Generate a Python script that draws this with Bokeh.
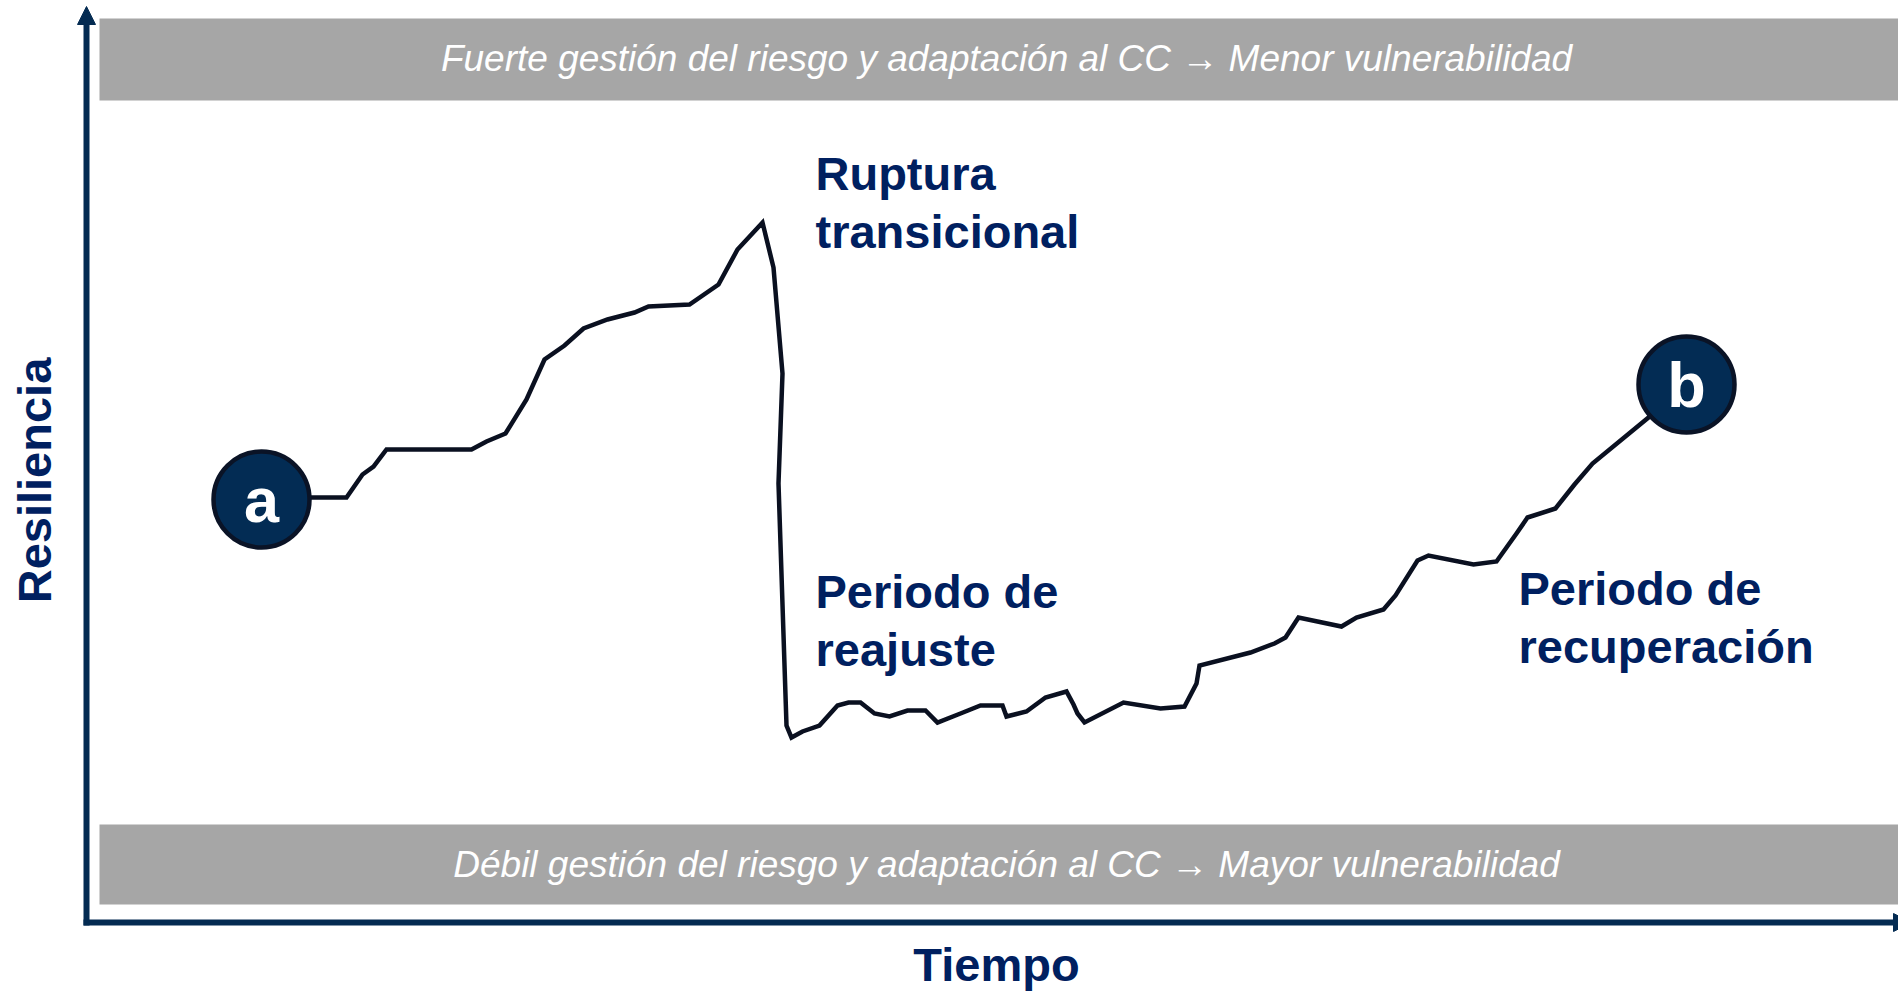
import math
from bokeh.plotting import figure
from bokeh.models import Range1d, Arrow, NormalHead
from bokeh.core.properties import value
from bokeh.embed import file_html
from bokeh.resources import INLINE

# ---- data ----
tiempo = [175, 260, 276, 287, 300, 385, 400, 419, 440, 458,
          478, 497, 521, 548, 562, 603, 632, 651, 676, 687,
          696, 692, 700, 705, 716, 733, 751, 762, 774, 788,
          803, 821, 839, 851, 874, 894, 916, 920, 940, 959,
          980, 987, 991, 998, 1037, 1074, 1098, 1110, 1113, 1164,
          1188, 1199, 1212, 1255, 1270, 1297, 1309, 1331, 1342, 1387,
          1410, 1430, 1441, 1469, 1488, 1506, 1562, 1600]
resiliencia = [425, 425, 448, 456, 473, 473, 481, 489, 523, 563,
               577, 594, 603, 610, 616, 618, 638, 673, 700, 655,
               549, 439, 197, 185, 191, 197, 217, 220, 220, 209,
               206, 212, 212, 200, 209, 217, 217, 206, 211, 225,
               231, 218, 209, 200, 220, 214, 216, 239, 257, 270,
               279, 285, 305, 296, 305, 313, 327, 362, 367, 358,
               361, 389, 405, 414, 438, 459, 505, 538]

hito_t = [175, 1600]
hito_r = [423, 538]
hito_txt = ["a", "b"]

titulo_x = "Tiempo"
titulo_y = "Resiliencia"
banda_sup = "Fuerte gestión del riesgo y adaptación al CC → Menor vulnerabilidad"
banda_inf = "Débil gestión del riesgo y adaptación al CC → Mayor vulnerabilidad"
fases = [["Ruptura", "transicional"],
         ["Periodo de", "reajuste"],
         ["Periodo de", "recuperación"]]

# ---- layout / style ----
FONT = value("Liberation Sans")
NAVY = "#002060"
AXIS = "#042B52"
W, H = 1898, 992

p = figure(width=W, height=H, x_range=Range1d(-86, 1812), y_range=Range1d(-70, 922),
           output_backend="svg", toolbar_location=None, min_border=0,
           x_axis_type=None, y_axis_type=None)
p.outline_line_color = None
p.background_fill_color = "white"
p.border_fill_color = "white"

# gray bands
p.quad(left=[13, 13], right=[1840, 1840], bottom=[822, 18], top=[904, 98],
       fill_color="#A6A6A6", line_color=None)
p.text(x=[920], y=[864], text=[banda_sup], text_font=FONT, text_font_style="italic",
       text_font_size="37px", text_color="white", text_align="center",
       text_baseline="alphabetic")
p.text(x=[920], y=[58], text=[banda_inf], text_font=FONT, text_font_style="italic",
       text_font_size="37px", text_color="white", text_align="center",
       text_baseline="alphabetic")

# axes with arrows
p.add_layout(Arrow(end=NormalHead(size=18, fill_color=AXIS, line_color=AXIS, line_width=1),
                   x_start=0, y_start=-3, x_end=0, y_end=916,
                   line_color=AXIS, line_width=6))
p.add_layout(Arrow(end=NormalHead(size=18, fill_color=AXIS, line_color=AXIS, line_width=1),
                   x_start=-3, y_start=0, x_end=1825, y_end=0,
                   line_color=AXIS, line_width=6))

# axis titles
p.text(x=[910], y=[-42], text=[titulo_x], text_font=FONT, text_font_style="bold",
       text_font_size="47px", text_color=NAVY, text_align="center",
       text_baseline="alphabetic")
p.text(x=[-52], y=[442], text=[titulo_y], angle=math.pi / 2, text_font=FONT,
       text_font_style="bold", text_font_size="47px", text_color=NAVY,
       text_align="center", text_baseline="alphabetic")

# resilience curve
p.line(tiempo, resiliencia, line_color="#0A1020", line_width=4.5, line_join="miter")

# milestones a / b
p.scatter(hito_t, hito_r, marker="circle", size=96, fill_color="#032C54",
          line_color="#0A1326", line_width=4.5)
p.text(x=hito_t, y=hito_r, text=hito_txt, y_offset=0, text_font=FONT,
       text_font_style="bold", text_font_size="63px", text_color="white",
       text_align="center", text_baseline="alphabetic")

# phase labels
fase_x = [729, 729, 1432]
fase_y = [749, 331, 334]
for fx, fy, lines in zip(fase_x, fase_y, fases):
    for i, ln in enumerate(lines):
        p.text(x=[fx], y=[fy - 58 * i], text=[ln], text_font=FONT, text_font_style="bold",
               text_font_size="47px", text_color=NAVY, text_align="left",
               text_baseline="alphabetic")

open("out.html", "w").write(file_html(p, INLINE))
